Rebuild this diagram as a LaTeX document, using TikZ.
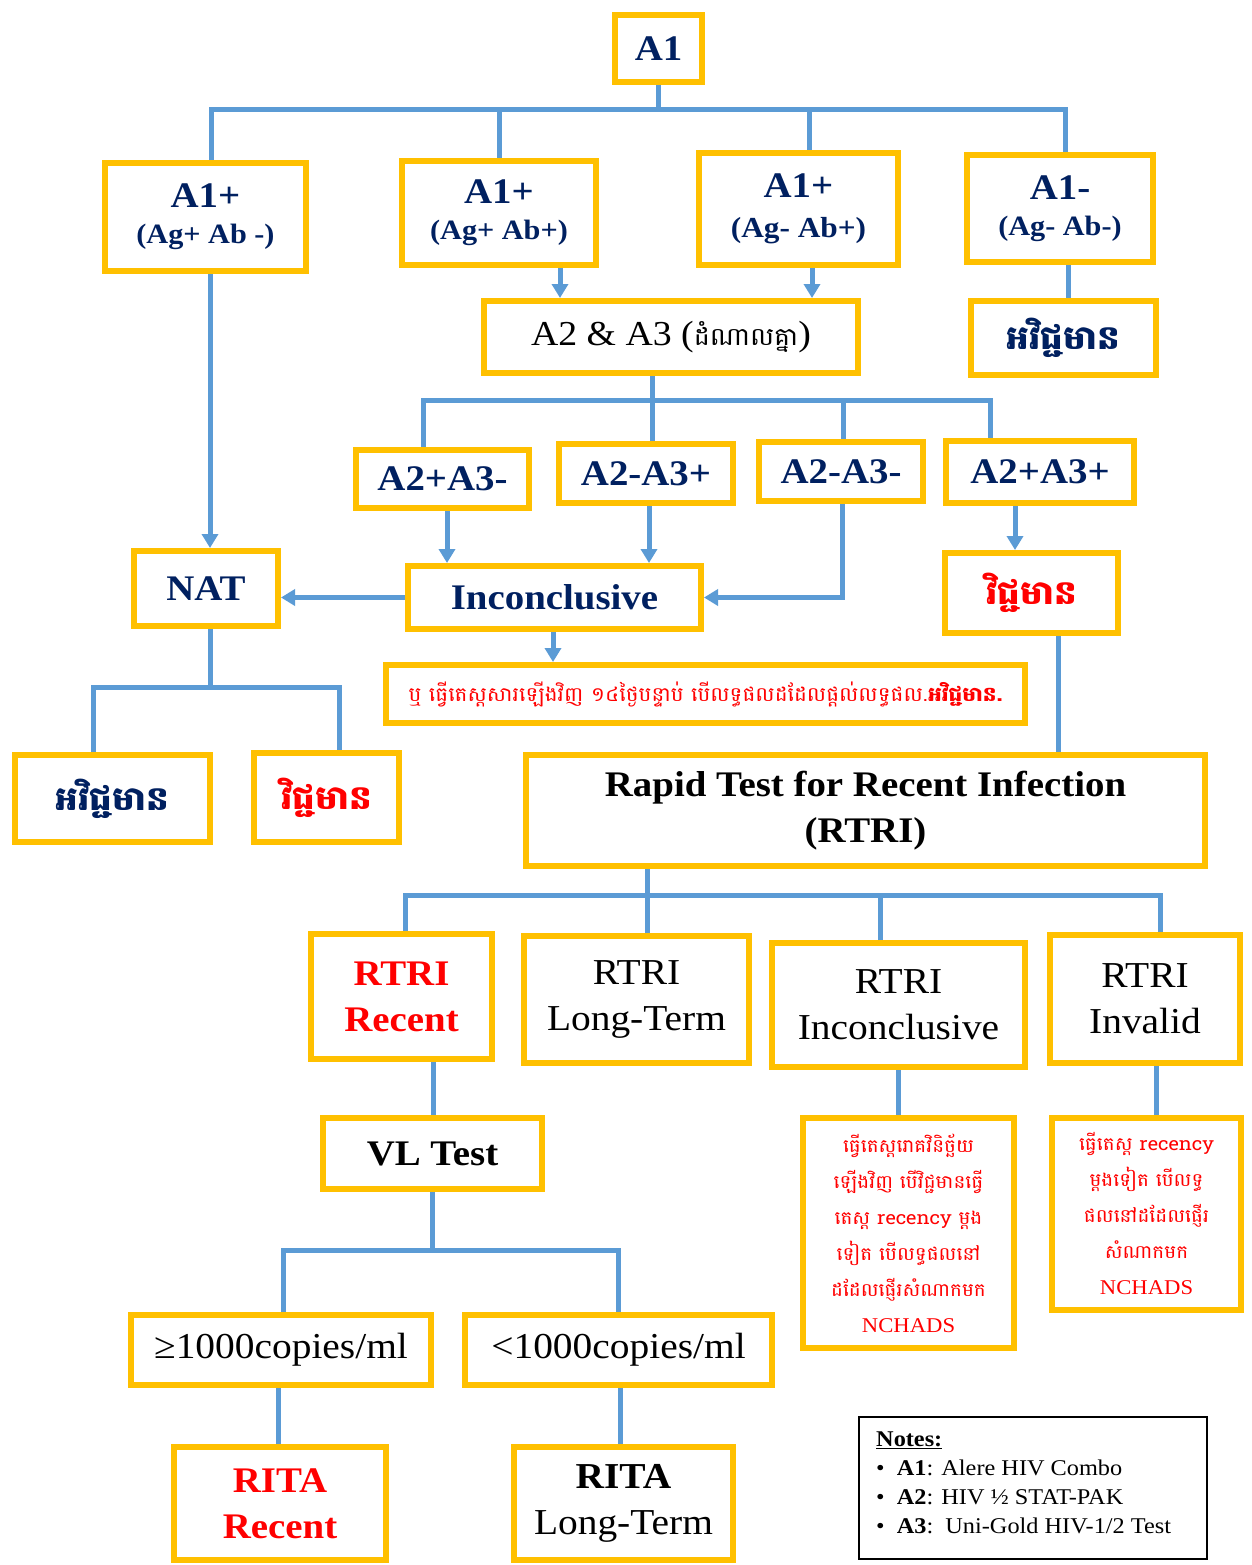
\documentclass[tikz,border=0pt]{standalone}
\usepackage{fontspec}
\setmainfont[FakeStretch=1.08]{Liberation Serif}
\newfontfamily\khmer[Script=Khmer,FakeStretch=1.08]{Battambang}
\usetikzlibrary{arrows.meta}
\definecolor{gold}{HTML}{FFC000}
\definecolor{lblue}{HTML}{5B9BD5}
\definecolor{navy}{HTML}{002060}
\definecolor{kred}{HTML}{FF0000}
\begin{document}
\begin{tikzpicture}[x=1pt,y=-1pt,
  ybox/.style={draw=gold,line width=6pt,fill=white,inner sep=0pt,align=center},
  conn/.style={draw=lblue,line width=5pt},
  arr/.style={draw=lblue,line width=5pt,-{Triangle[width=16pt,length=14pt]}},
  nv/.style={text=navy,font=\fontsize{36}{40}\selectfont\bfseries},
  bk/.style={text=black,font=\fontsize{36.5}{46}\selectfont},
  bkb/.style={text=black,font=\fontsize{36}{46}\selectfont\bfseries},
  rdb/.style={text=kred,font=\fontsize{36}{46}\selectfont\bfseries},
  kh/.style={font=\khmer\fontsize{33}{36}\selectfont\bfseries},
  khs/.style={text=kred,font=\khmer\fontsize{18.5}{36}\selectfont}
]
\useasboundingbox (0,0) rectangle (1251,1565);
\fill[white] (0,0) rectangle (1251,1565);

% top level
\node[ybox,nv,minimum width=87,minimum height=67] (A1) at (658.5,48.5) {A1};
\node[ybox,nv,minimum width=201,minimum height=108] (b1) at (205.5,217) {A1+\\[-4pt]{\fontsize{28}{32}\selectfont(Ag+ Ab -)}};
\node[ybox,nv,minimum width=194,minimum height=104] (b2) at (499,213) {A1+\\[-4pt]{\fontsize{28}{32}\selectfont(Ag+ Ab+)}};
\node[ybox,nv,minimum width=199,minimum height=112] (b3) at (798.5,209) {A1+\\[0pt]{\fontsize{29}{32}\selectfont(Ag- Ab+)}};
\node[ybox,nv,minimum width=186,minimum height=107] (b4) at (1060,208.5) {A1-\\[-4pt]{\fontsize{28}{32}\selectfont(Ag- Ab-)}};

\node[ybox,minimum width=374,minimum height=72,font=\fontsize{35}{40}\selectfont] (a23) at (671,337) {A2 \& A3 ({\khmer\fontsize{25}{30}\selectfont ដំណាលគ្នា})};
\node[ybox,kh,text=navy,minimum width=185,minimum height=74] (neg1) at (1063.5,338) {អវិជ្ជមាន};

\node[ybox,nv,minimum width=173,minimum height=58] (c1) at (442.5,479) {A2+A3-};
\node[ybox,nv,minimum width=174,minimum height=59] (c2) at (646,473.5) {A2-A3+};
\node[ybox,nv,minimum width=164,minimum height=59] (c3) at (841,471.5) {A2-A3-};
\node[ybox,nv,minimum width=188,minimum height=62] (c4) at (1040,472) {A2+A3+};

\node[ybox,nv,minimum width=293,minimum height=63] (inc) at (554.5,597.5) {Inconclusive};
\node[ybox,nv,minimum width=144,minimum height=75] (nat) at (206,588.5) {NAT};
\node[ybox,kh,text=kred,minimum width=173,minimum height=80] (pos1) at (1031.5,593) {វិជ្ជមាន};

\node[ybox,text=kred,font=\khmer\fontsize{20}{24}\selectfont,minimum width=639,minimum height=58] (note1) at (705.5,694) {ឬ ធ្វើតេស្តសារឡើងវិញ ១៤ថ្ងៃបន្ទាប់ បើលទ្ធផលដដែលផ្តល់លទ្ធផល.{\bfseries អវិជ្ជមាន.}};

\node[ybox,kh,text=navy,minimum width=195,minimum height=87] (neg2) at (112.5,798.5) {អវិជ្ជមាន};
\node[ybox,kh,text=kred,minimum width=145,minimum height=89] (pos2) at (326.5,797.5) {វិជ្ជមាន};

\node[ybox,bkb,minimum width=679,minimum height=111] (rtri) at (865.5,810.5) {Rapid Test for Recent Infection\\(RTRI)};

\node[ybox,rdb,minimum width=181,minimum height=125] (r1) at (401.5,996.5) {RTRI\\Recent};
\node[ybox,bk,minimum width=225,minimum height=127] (r2) at (636.5,999.5) {RTRI\\Long-Term};
\node[ybox,bk,minimum width=253,minimum height=124] (r3) at (898.5,1005) {RTRI\\Inconclusive};
\node[ybox,bk,minimum width=190,minimum height=128] (r4) at (1145,999) {RTRI\\Invalid};

\node[ybox,bkb,minimum width=219,minimum height=71] (vl) at (432.5,1153.5) {VL Test};
\node[ybox,bk,minimum width=300,minimum height=70] (g1) at (281,1350) {≥1000copies/ml};
\node[ybox,bk,minimum width=307,minimum height=70] (l1) at (618.5,1350) {<1000copies/ml};

\node[ybox,rdb,minimum width=212,minimum height=113] (rr) at (280,1503.5) {RITA\\Recent};
\node[ybox,bk,minimum width=219,minimum height=113] (rl) at (623.5,1503.5) {{\bfseries RITA}\\Long-Term};

\node[ybox,khs,minimum width=211,minimum height=230] (k1) at (908.5,1233) {ធ្វើតេស្តរោគវិនិច្ឆ័យ\\ឡើងវិញ បើវិជ្ជមានធ្វើ\\តេស្ត recency ម្តង\\ទៀត បើលទ្ធផលនៅ\\ដដែលផ្ញើរសំណាកមក\\{\rmfamily\fontsize{21}{36}\selectfont NCHADS}};
\node[ybox,khs,minimum width=189,minimum height=192] (k2) at (1146.5,1214) {ធ្វើតេស្ត recency\\ម្តងទៀត បើលទ្ធ\\ផលនៅដដែលផ្ញើរ\\សំណាកមក\\{\rmfamily\fontsize{21}{36}\selectfont NCHADS}};

\node[draw=black,line width=2pt,fill=white,minimum width=348,minimum height=142,inner sep=0pt] (notes) at (1033,1488) {};
\node[anchor=north west,align=left,inner sep=0pt,font=\fontsize{22.5}{29}\selectfont] (notestext) at (876,1432) {\textbf{\underline{Notes:}}\\
•\ \ \textbf{A1}: Alere HIV Combo\\
•\ \ \textbf{A2}: HIV ½ STAT-PAK\\
•\ \ \textbf{A3}:\ \ Uni-Gold HIV-1/2 Test};

% bus 1
\coordinate (bus1) at (0,110);
\draw[conn] (A1.south) -- (A1.south |- bus1);
\draw[conn] ([xshift=6]b1.north) |- ([xshift=5]b4.north |- bus1) -- ([xshift=5]b4.north);
\draw[conn] (b2.north) -- (b2.north |- bus1);
\draw[conn] ([xshift=11]b3.north) -- ([xshift=11]b3.north |- bus1);

\draw[arr] ([xshift=61]b2.south) -- ([xshift=61]b2.south |- a23.north);
\draw[arr] ([xshift=13.5]b3.south) -- ([xshift=13.5]b3.south |- a23.north);
\draw[conn] ([xshift=8]b4.south) -- ([xshift=8]b4.south |- neg1.north);

% bus 2
\coordinate (bus2) at (0,400);
\draw[conn] ([xshift=-19]a23.south) -- ([xshift=-19]a23.south |- bus2);
\draw[conn] ([xshift=-19.5]c1.north) |- ([xshift=-50]c4.north |- bus2) -- ([xshift=-50]c4.north);
\draw[conn] ([xshift=6]c2.north) -- ([xshift=6]c2.north |- bus2);
\draw[conn] ([xshift=2]c3.north) -- ([xshift=2]c3.north |- bus2);

\draw[arr] ([xshift=4.5]c1.south) -- ([xshift=4.5]c1.south |- inc.north);
\draw[arr] ([xshift=3]c2.south) -- ([xshift=3]c2.south |- inc.north);
\draw[arr] ([xshift=1]c3.south) |- (inc.east);
\draw[arr] ([xshift=-25]c4.south) -- ([xshift=-25]c4.south |- pos1.north);
\draw[arr] (inc.west) -- (inc.west -| nat.east);
\draw[arr] ([xshift=4.5]b1.south) -- ([xshift=4.5]b1.south |- nat.north);
\draw[arr] ([xshift=-1.5]inc.south) -- ([xshift=-1.5]inc.south |- note1.north);

% bus 3
\coordinate (bus3) at (0,687);
\draw[conn] ([xshift=4]nat.south) -- ([xshift=4]nat.south |- bus3);
\draw[conn] ([xshift=-19.5]neg2.north) |- ([xshift=12.5]pos2.north |- bus3) -- ([xshift=12.5]pos2.north);

\draw[conn] ([xshift=26.5]pos1.south) -- ([xshift=26.5]pos1.south |- rtri.north);

% bus 4
\coordinate (bus4) at (0,895);
\draw[conn] ([xshift=-218.5]rtri.south) -- ([xshift=-218.5]rtri.south |- bus4);
\draw[conn] ([xshift=3.5]r1.north) |- ([xshift=15]r4.north |- bus4) -- ([xshift=15]r4.north);
\draw[conn] ([xshift=10.5]r2.north) -- ([xshift=10.5]r2.north |- bus4);
\draw[conn] ([xshift=-18.5]r3.north) -- ([xshift=-18.5]r3.north |- bus4);

\draw[conn] ([xshift=31.5]r1.south) -- ([xshift=31.5]r1.south |- vl.north);
\draw[conn] (r3.south) -- (r3.south |- k1.north);
\draw[conn] ([xshift=11]r4.south) -- ([xshift=11]r4.south |- k2.north);

% bus 5
\coordinate (bus5) at (0,1250);
\draw[conn] (vl.south) -- (vl.south |- bus5);
\draw[conn] ([xshift=2]g1.north) |- (l1.north |- bus5) -- (l1.north);
\draw[conn] ([xshift=-3]g1.south) -- ([xshift=-3]g1.south |- rr.north);
\draw[conn] ([xshift=1.5]l1.south) -- ([xshift=1.5]l1.south |- rl.north);
\end{tikzpicture}
\end{document}
